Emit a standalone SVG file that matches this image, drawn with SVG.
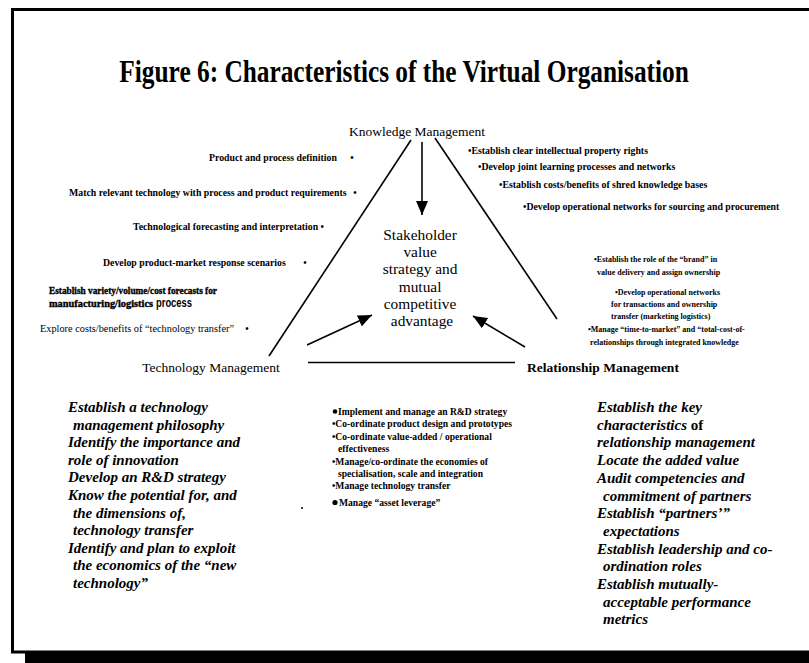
<svg xmlns="http://www.w3.org/2000/svg" width="809" height="663" viewBox="0 0 809 663">
  <style>
    .serif { font-family: "Liberation Serif", "Times New Roman", serif; fill: #000; }
    .b { font-weight: bold; }
    .it { font-style: italic; font-weight: bold; }
    .item { font-size: 9.8px; font-weight: bold; }
    .small { font-size: 8px; font-weight: bold; }
    .mid { font-size: 9.6px; font-weight: bold; }
    .heavy { font-size: 10px; font-weight: bold; stroke: #000; stroke-width: 0.35px; }
    .head { font-size: 13.5px; }
    .centre { font-size: 15.4px; }
    .act { font-size: 15px; }
    .line { stroke: #000; stroke-width: 1.6; fill: none; }
  </style>
  <defs>
    <marker id="ah" viewBox="0 0 14 12" refX="14" refY="6" markerWidth="14" markerHeight="12" orient="auto" markerUnits="userSpaceOnUse">
      <path d="M0,0 L14,6 L0,12 z" fill="#000"/>
    </marker>
  </defs>

  <rect width="809" height="663" fill="#fff"/>

  <!-- page frame with drop shadow -->
  <rect x="25" y="653" width="800" height="20" fill="#000"/>
  <rect x="12.5" y="9.5" width="820" height="642.5" fill="none" stroke="#000" stroke-width="3"/>

  <!-- title (condensed bold serif) -->
  <text class="serif b" transform="scale(0.818,1)" x="494" y="82" font-size="31" text-anchor="middle">Figure 6: Characteristics of the Virtual Organisation</text>

  <!-- connectors -->
  <g id="connectors">
    <line class="line" x1="411" y1="140" x2="269" y2="356"/>
    <line class="line" x1="435" y1="138" x2="557" y2="319"/>
    <line class="line" x1="308" y1="362.5" x2="515" y2="362.5"/>
    <line class="line" x1="422" y1="142" x2="422" y2="215" marker-end="url(#ah)"/>
    <line class="line" x1="307" y1="345" x2="372" y2="315" marker-end="url(#ah)"/>
    <line class="line" x1="525" y1="347" x2="473" y2="316" marker-end="url(#ah)"/>
  </g>

  <!-- apex: knowledge management -->
  <g id="knowledge-management">
    <text class="serif head" x="417" y="136" text-anchor="middle">Knowledge Management</text>
  </g>

  <!-- centre goal -->
  <g id="stakeholder-value">
    <text class="serif centre" text-anchor="middle" y="240">
      <tspan x="422">Stakeholder</tspan>
      <tspan x="422" dy="17.2">value</tspan>
      <tspan x="422" dy="17.2">strategy and</tspan>
      <tspan x="422" dy="17.2">mutual</tspan>
      <tspan x="422" dy="17.2">competitive</tspan>
      <tspan x="422" dy="17.2">advantage</tspan>
    </text>
  </g>

  <!-- technology / knowledge interface -->
  <g id="technology-knowledge-items" class="serif">
    <text class="item" x="209" y="161">Product and process definition</text>
    <text class="item" x="352" y="161" text-anchor="middle">•</text>
    <text class="item" x="69" y="196">Match relevant technology with process and product requirements</text>
    <text class="item" x="355" y="196" text-anchor="middle">•</text>
    <text class="item" x="133" y="230">Technological forecasting and interpretation •</text>
    <text class="item" x="103" y="266">Develop product-market response scenarios</text>
    <text class="item" x="305" y="266" text-anchor="middle">•</text>
    <text class="heavy" x="49" y="294" textLength="168" lengthAdjust="spacingAndGlyphs">Establish variety/volume/cost forecasts for</text>
    <text class="heavy" x="49" y="307" textLength="104" lengthAdjust="spacingAndGlyphs">manufacturing/logistics</text>
    <text x="156" y="307" font-family="'Liberation Sans', Arial, sans-serif" font-weight="bold" font-size="12" textLength="36" lengthAdjust="spacingAndGlyphs">process</text>
    <text x="40" y="332" font-size="10" textLength="194" lengthAdjust="spacingAndGlyphs">Explore costs/benefits of “technology transfer”</text>
    <text class="item" x="247" y="332" text-anchor="middle">•</text>
  </g>

  <!-- relationship / knowledge interface -->
  <g id="relationship-knowledge-items" class="serif">
    <text class="item" x="468" y="154">•Establish clear intellectual property  rights</text>
    <text class="item" x="478" y="170">•Develop joint learning processes and networks</text>
    <text class="item" x="499" y="188">•Establish costs/benefits of shred knowledge bases</text>
    <text class="item" x="523" y="210">•Develop operational networks for sourcing and procurement</text>
    <text class="small" x="594" y="262">•Establish the role of the “brand” in</text>
    <text class="small" x="597" y="275">value delivery and assign ownership</text>
    <text class="small" x="615" y="295">•Develop operational networks</text>
    <text class="small" x="611" y="307">for transactions and ownership</text>
    <text class="small" x="611" y="319">transfer (marketing logistics)</text>
    <text class="small" x="588" y="332">•Manage “time-to-market” and “total-cost-of-</text>
    <text class="small" x="590" y="345">relationships through integrated knowledge</text>
  </g>

  <!-- base left: technology management -->
  <g id="technology-management">
    <text class="serif head" x="211" y="372" text-anchor="middle">Technology Management</text>
  </g>

  <!-- base right: relationship management -->
  <g id="relationship-management">
    <text class="serif head b" x="527" y="372">Relationship Management</text>
  </g>

  <!-- technology / relationship interface -->
  <g id="technology-relationship-items" class="serif mid">
    <circle cx="335" cy="411.5" r="2.3"/>
    <text x="338" y="415">Implement and manage an R&amp;D strategy</text>
    <text x="332" y="427">•Co-ordinate product design and prototypes</text>
    <text x="332" y="439.5">•Co-ordinate value-added / operational</text>
    <text x="338" y="452">effectiveness</text>
    <text x="332" y="464.5">•Manage/co-ordinate the economies of</text>
    <text x="338" y="477">specialisation, scale and integration</text>
    <text x="332" y="489">•Manage technology transfer</text>
    <circle cx="335" cy="502.5" r="2.6"/>
    <text x="339" y="506">Manage “asset leverage”</text>
  </g>
  <circle cx="302" cy="508" r="1" fill="#000"/>

  <!-- technology management actions -->
  <g id="technology-actions" class="serif it act">
    <text x="68" y="412">Establish a technology</text>
    <text x="73" y="429.6">management philosophy</text>
    <text x="68" y="447.2">Identify the importance and</text>
    <text x="68" y="464.8">role of innovation</text>
    <text x="68" y="482.4">Develop an R&amp;D strategy</text>
    <text x="68" y="500">Know the potential for, and</text>
    <text x="73" y="517.6">the dimensions of,</text>
    <text x="73" y="535.2">technology transfer</text>
    <text x="68" y="552.8">Identify and plan to exploit</text>
    <text x="73" y="570.4">the economics of the “new</text>
    <text x="73" y="588">technology”</text>
  </g>

  <!-- relationship management actions -->
  <g id="relationship-actions" class="serif it act">
    <text x="597" y="412">Establish the key</text>
    <text x="597" y="429.7">characteristics <tspan font-style="normal">of</tspan></text>
    <text x="597" y="447.4">relationship management</text>
    <text x="597" y="465.1">Locate the added value</text>
    <text x="597" y="482.8">Audit competencies and</text>
    <text x="603" y="500.5">commitment of partners</text>
    <text x="597" y="518.2">Establish “partners’”</text>
    <text x="603" y="535.9">expectations</text>
    <text x="597" y="553.6">Establish leadership and co-</text>
    <text x="603" y="571.3">ordination roles</text>
    <text x="597" y="589">Establish mutually-</text>
    <text x="603" y="606.7">acceptable performance</text>
    <text x="603" y="624.4">metrics</text>
  </g>
</svg>
